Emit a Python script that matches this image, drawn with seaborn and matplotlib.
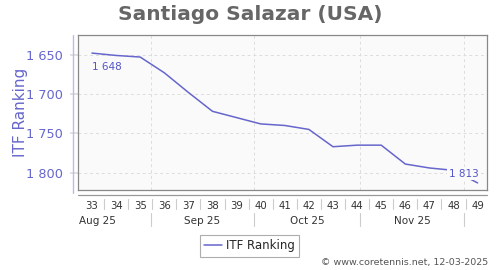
import matplotlib
matplotlib.use("Agg")
import matplotlib.pyplot as plt
import matplotlib.transforms as mtransforms
import seaborn as sns
import pandas as pd

weeks = [33, 34, 35, 36, 37, 38, 39, 40, 41, 42, 43, 44, 45, 46, 47, 48, 49]
ranking = [1648, 1651, 1653, 1673, 1698, 1722, 1730, 1738, 1740, 1745,
           1767, 1765, 1765, 1789, 1794, 1797, 1813]
month_labels = ["Aug 25", "Sep 25", "Oct 25", "Nov 25"]
month_starts = [31.01, 35.44, 39.72, 44.14, 48.42]
y_ticks = [1650, 1700, 1750, 1800]
title = "Santiago Salazar (USA)"
series_name = "ITF Ranking"
credit = "\u00a9 www.coretennis.net, 12-03-2025"

df = pd.DataFrame({"week": weeks, series_name: ranking})

sns.set_theme(style="white")
plt.rcParams["font.family"] = ["DejaVu Sans"]

line_color = "#6666cc"
fig = plt.figure(figsize=(5, 2.7), dpi=100)
ax = fig.add_axes([78 / 500, 1 - 190 / 270, 409 / 500, 155 / 270])
ax.set_facecolor("#fafafa")

sns.lineplot(data=df, x="week", y=series_name, ax=ax, color=line_color,
             linewidth=1.1, label=series_name, legend=False)

ax.set_xlim(32.42, 49.39)
ax.set_ylim(1822, 1625)

for s in ax.spines.values():
    s.set_color("#888888")
    s.set_linewidth(0.9)

# grid
for yt in y_ticks:
    ax.axhline(yt, color="#dddddd", linestyle=(0, (3, 3)), linewidth=0.7, zorder=0)
for ms in month_starts[1:]:
    ax.axvline(ms, color="#dddddd", linestyle=(0, (3, 3)), linewidth=0.7, zorder=0)

# y axis
ax.set_yticks(y_ticks)
ax.set_yticklabels([f"{v:,}".replace(",", " ") for v in y_ticks],
                   color=line_color, fontsize=9.3)
ax.tick_params(axis="y", length=6, color="#dddddd", pad=5, left=True)
ax.set_ylabel(series_name, color=line_color, fontsize=11)
ax.yaxis.set_label_coords((28 - 78) / 409, 0.5)
ax.plot([-5 / 409, -5 / 409], [-0.02, 1.0], transform=ax.transAxes,
        color="#bbbbe8", linewidth=1, clip_on=False)

# x axis
ax.set_xticks(weeks)
ax.set_xticklabels([str(w) for w in weeks], fontsize=7.3, color="#333333")
ax.tick_params(axis="x", length=0, pad=8)
ax.set_xlabel("")
ax.plot([0, 1], [-5 / 155, -5 / 155], transform=ax.transAxes,
        color="#999999", linewidth=0.9, clip_on=False)
trans = mtransforms.blended_transform_factory(ax.transData, ax.transAxes)
for i in range(len(weeks) - 1):
    xm = (weeks[i] + weeks[i + 1]) / 2
    ax.plot([xm, xm], [-9 / 155, -19 / 155], transform=trans,
            color="#cccccc", linewidth=0.8, clip_on=False)
for ms in month_starts[1:]:
    ax.plot([ms, ms], [-23 / 155, -36 / 155], transform=trans,
            color="#cccccc", linewidth=0.8, clip_on=False)
for i, lab in enumerate(month_labels):
    xc = (month_starts[i] + month_starts[i + 1]) / 2
    ax.text(xc, -31 / 155, lab, transform=trans, ha="center", va="center",
            fontsize=7.5, color="#333333")

# data labels
ax.annotate(f"{ranking[0]:,}".replace(",", " "), (weeks[0], ranking[0]),
            xytext=(0, -10), textcoords="offset points", ha="left", va="center",
            fontsize=7.5, color="#5555cc")
ax.annotate(f"{ranking[-1]:,}".replace(",", " "), (weeks[-1], ranking[-1]),
            xytext=(-10, 6.5), textcoords="offset points", ha="center", va="center",
            fontsize=7.5, color="#5555cc",
            bbox=dict(boxstyle="square,pad=0.15", fc="#fafafa", ec="none"))

# title
fig.text(0.5, 1 - 14 / 270, title, ha="center", va="center", fontsize=14.5,
         fontweight="bold", color="#666666")

# legend
h, l = ax.get_legend_handles_labels()
leg = fig.legend(h, l, loc="center", bbox_to_anchor=(249.5 / 500, 1 - 246 / 270),
                 fontsize=8.5, frameon=True, fancybox=False, handlelength=1.5,
                 handletextpad=0.4, borderpad=0.35, borderaxespad=0)
leg.get_frame().set_edgecolor("#999999")
leg.get_frame().set_linewidth(0.8)

fig.text(488 / 500, 1 - 263 / 270, credit, ha="right", va="center",
         fontsize=6.8, color="#555555")

fig.savefig("out.png", dpi=100)
